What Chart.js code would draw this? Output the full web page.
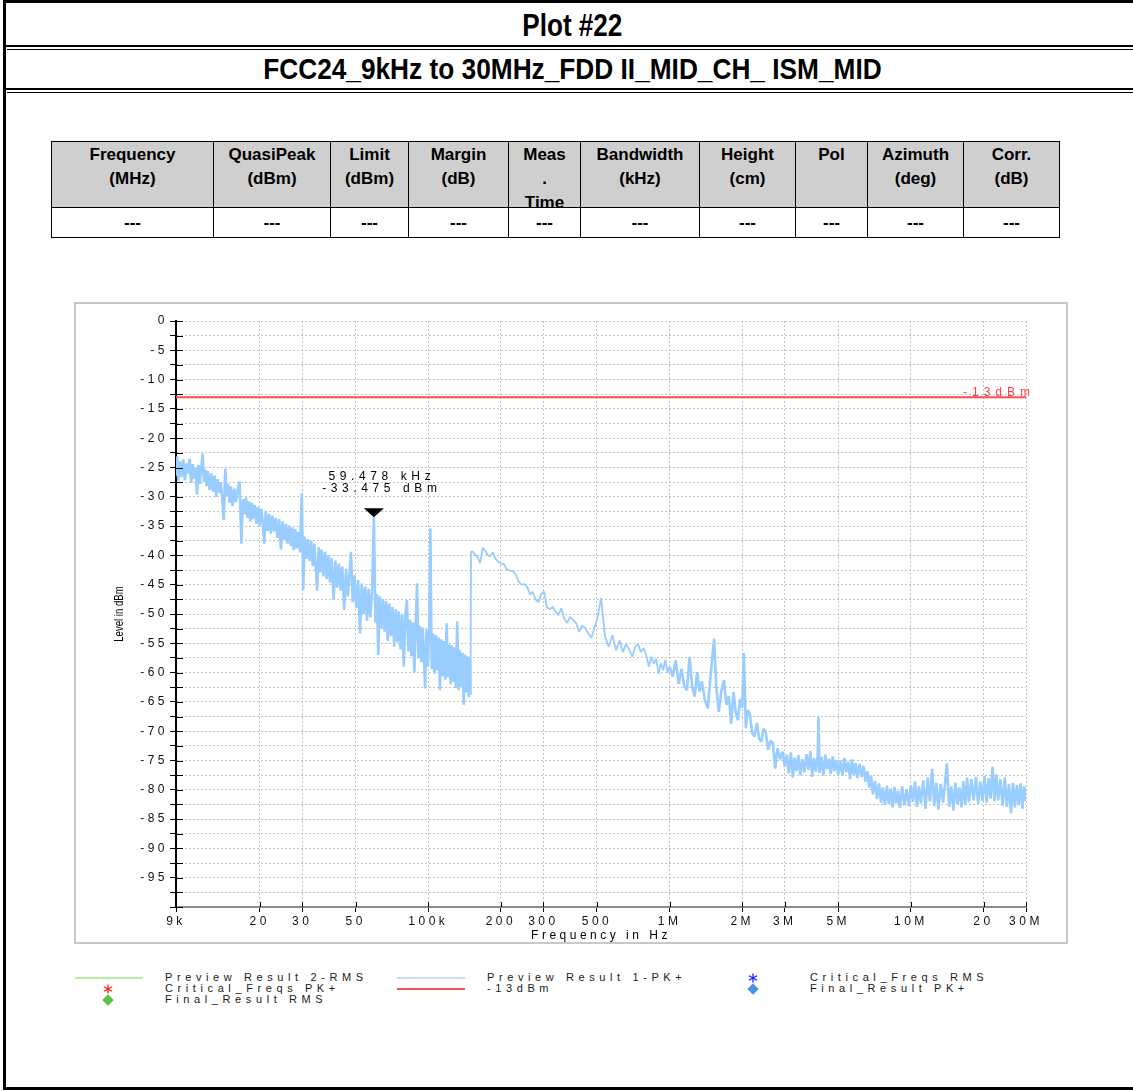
<!DOCTYPE html>
<html>
<head>
<meta charset="utf-8">
<title>Plot #22</title>
<script src="https://cdn.jsdelivr.net/npm/chart.js@4.4.1/dist/chart.umd.min.js"></script>
<style>
  body { margin: 0; background: #fff; font-family: "Liberation Sans", Arial, sans-serif; }
  .ln { position: absolute; background: #000; }
  .head { position: absolute; left: 7px; width: 1130px; text-align: center; font-weight: bold; white-space: nowrap; color: #000; }
  .head span { display: inline-block; }
  table.res { position: absolute; left: 51px; top: 141px; border-collapse: collapse; table-layout: fixed; }
  table.res th, table.res td { border: 1px solid #000; padding: 0; font-size: 17px; font-weight: bold; text-align: center; color: #000; }
  table.res th { background: #cfcfcf; height: 65px; vertical-align: top; }
  table.res th div { height: 65px; overflow: hidden; line-height: 24px; padding-top: 1px; box-sizing: border-box; }
  table.res td { height: 29px; }
  #box { position: absolute; left: 74px; top: 302px; width: 994px; height: 642px; box-sizing: border-box; border: 2px solid #c8c8c8; }
  #plot { position: absolute; left: 75px; top: 303px; }
  .lg { position: absolute; font-size: 11px; line-height: 11px; letter-spacing: 4.6px; color: #1a1a1a; white-space: nowrap; }
  .sw { position: absolute; height: 2px; width: 68px; }
  .ast { position: absolute; width: 10px; height: 10px; }
  .dia { position: absolute; width: 8px; height: 8px; transform: rotate(45deg); }
</style>
</head>
<body>

<!-- page frame -->
<div class="ln" style="left:3px;top:0;width:3px;height:1090px"></div>
<div class="ln" style="left:3px;top:0;width:1130px;height:3px"></div>
<div class="ln" style="left:3px;top:45px;width:1130px;height:2px"></div>
<div class="ln" style="left:7px;top:49px;width:1126px;height:1px"></div>
<div class="ln" style="left:3px;top:88px;width:1130px;height:2px"></div>
<div class="ln" style="left:7px;top:92px;width:1126px;height:1px"></div>
<div class="ln" style="left:3px;top:1087px;width:1130px;height:3px"></div>

<div class="head" style="top:5px;font-size:32px;line-height:40px"><span style="transform:scaleX(0.815)">Plot #22</span></div>
<div class="head" style="top:50px;font-size:30px;line-height:38px"><span style="transform:scaleX(0.875)">FCC24_9kHz to 30MHz_FDD II_MID_CH_ ISM_MID</span></div>

<table class="res">
  <colgroup>
    <col style="width:162px"><col style="width:117px"><col style="width:78px"><col style="width:100px"><col style="width:72px">
    <col style="width:119px"><col style="width:96px"><col style="width:72px"><col style="width:96px"><col style="width:96px">
  </colgroup>
  <tr>
    <th><div>Frequency<br>(MHz)</div></th>
    <th><div>QuasiPeak<br>(dBm)</div></th>
    <th><div>Limit<br>(dBm)</div></th>
    <th><div>Margin<br>(dB)</div></th>
    <th><div>Meas<br>.<br>Time</div></th>
    <th><div>Bandwidth<br>(kHz)</div></th>
    <th><div>Height<br>(cm)</div></th>
    <th><div>Pol</div></th>
    <th><div>Azimuth<br>(deg)</div></th>
    <th><div>Corr.<br>(dB)</div></th>
  </tr>
  <tr>
    <td>---</td><td>---</td><td>---</td><td>---</td><td>---</td>
    <td>---</td><td>---</td><td>---</td><td>---</td><td>---</td>
  </tr>
</table>

<div id="box"></div>
<canvas id="plot" width="992" height="640"></canvas>

<!-- legend -->
<div class="sw" style="left:75px;top:977px;background:#b8f0a4"></div>
<div class="lg" style="left:165px;top:972px">Preview Result 2-RMS</div>
<svg class="ast" style="left:103px;top:984px" viewBox="0 0 10 10"><g stroke="#ff2020" stroke-width="1.3"><line x1="5" y1="0.5" x2="5" y2="9.5"/><line x1="1" y1="2.7" x2="9" y2="7.3"/><line x1="1" y1="7.3" x2="9" y2="2.7"/></g></svg>
<div class="lg" style="left:165px;top:983px">Critical_Freqs PK+</div>
<div class="dia" style="left:104px;top:996px;background:#5cc040"></div>
<div class="lg" style="left:165px;top:994px">Final_Result RMS</div>

<div class="sw" style="left:397px;top:977px;background:#c8dcf8"></div>
<div class="lg" style="left:487px;top:972px">Preview Result 1-PK+</div>
<div class="sw" style="left:397px;top:988px;background:#f05454"></div>
<div class="lg" style="left:487px;top:983px">-13dBm</div>

<svg class="ast" style="left:748px;top:973px" viewBox="0 0 10 10"><g stroke="#2020ff" stroke-width="1.3"><line x1="5" y1="0.5" x2="5" y2="9.5"/><line x1="1" y1="2.7" x2="9" y2="7.3"/><line x1="1" y1="7.3" x2="9" y2="2.7"/></g></svg>
<div class="lg" style="left:810px;top:972px">Critical_Freqs RMS</div>
<div class="dia" style="left:749px;top:985px;background:#4a94e0"></div>
<div class="lg" style="left:810px;top:983px">Final_Result PK+</div>

<script>
// 9 kHz - 150 kHz part of the PK+ preview trace
const lowBandFreqKHz = [
  9.0, 9.1, 9.2, 9.35, 9.5, 9.65, 9.8, 9.95, 10.1, 10.25,
  10.4, 10.55, 10.7, 10.85, 11.0, 11.15, 11.3, 11.45, 11.6, 11.75,
  11.9, 12.05, 12.2, 12.4, 12.6, 12.8, 13.0, 13.2, 13.4, 13.6,
  13.8, 14.0, 14.2, 14.4, 14.6, 14.8, 15.0, 15.2, 15.45, 15.7,
  15.95, 16.2, 16.5, 16.8, 17.05, 17.3, 17.55, 17.8, 18.05, 18.3,
  18.55, 18.8, 19.1, 19.4, 19.7, 20.0, 20.3, 20.6, 20.9, 21.2,
  21.55, 21.9, 22.25, 22.6, 22.95, 23.3, 23.7, 24.1, 24.5, 24.9,
  25.3, 25.7, 26.1, 26.5, 26.9, 27.3, 27.7, 28.1, 28.5, 28.9,
  29.4, 29.9, 30.3, 30.7, 31.2, 31.7, 32.2, 32.7, 33.2, 33.7,
  34.2, 34.6, 35.1, 35.6, 36.1, 36.7, 37.3, 37.9, 38.5, 39.1,
  39.7, 40.5, 41.2, 41.9, 42.6, 43.3, 44.0, 44.8, 45.6, 46.4,
  47.2, 47.8, 48.6, 49.4, 50.3, 51.2, 52.1, 53.0, 53.9, 54.8,
  55.7, 56.6, 57.5, 58.5, 59.478, 60.4, 61.2, 62.0, 62.9, 63.9,
  64.9, 65.9, 66.9, 67.9, 68.9, 70.0, 71.1, 72.2, 73.3, 74.4,
  75.5, 76.7, 77.9, 79.1, 80.3, 81.5, 82.7, 83.9, 85.1, 86.3,
  87.5, 88.7, 89.8, 91.0, 92.3, 93.6, 94.9, 96.0, 97.0, 98.3,
  99.6, 100.9, 102.0, 103.3, 104.7, 106.1, 107.5, 108.9, 110.3, 111.7,
  113.1, 114.6, 116.1, 117.6, 119.1, 120.6, 122.1, 123.7, 125.3, 126.9,
  128.5, 130.1, 131.7, 133.4, 135.1, 136.8, 138.5, 140.2, 141.9, 143.6,
  145.3, 147.0, 148.7, 149.6
];
const lowBandLevel = [
  -26.4, -23.1, -27.3, -24.0, -26.6, -23.6, -27.2, -24.3, -26.0, -23.5,
  -27.6, -24.4, -26.9, -25.0, -29.6, -24.6, -27.8, -25.1, -22.6, -27.4,
  -25.3, -28.2, -25.6, -28.8, -26.0, -29.1, -26.4, -30.0, -27.0, -29.3,
  -27.5, -30.4, -34.0, -25.2, -29.8, -27.8, -31.0, -28.2, -31.6, -28.6,
  -30.9, -28.9, -27.4, -38.0, -30.4, -33.0, -30.1, -33.6, -30.8, -34.2,
  -31.0, -33.8, -31.4, -34.6, -31.7, -35.0, -32.0, -34.4, -38.0, -32.4,
  -35.8, -32.9, -36.3, -33.2, -35.9, -33.6, -37.0, -33.8, -39.0, -34.2,
  -37.4, -34.6, -38.0, -34.9, -38.4, -35.2, -39.1, -35.5, -38.8, -36.0,
  -39.5, -29.4, -45.9, -36.8, -40.6, -37.2, -41.0, -37.5, -41.8, -38.0,
  -42.4, -46.0, -38.6, -42.9, -39.0, -43.6, -39.4, -44.0, -40.0, -44.6,
  -40.4, -47.6, -40.9, -45.5, -41.4, -46.0, -41.9, -49.3, -42.3, -47.0,
  -42.8, -39.4, -48.0, -43.4, -49.0, -44.2, -53.3, -44.8, -50.0, -45.3,
  -51.2, -45.7, -50.6, -46.0, -33.475, -51.5, -46.6, -57.0, -47.0, -52.4,
  -47.4, -53.0, -47.8, -54.6, -48.2, -53.8, -48.8, -55.6, -49.2, -54.8,
  -49.6, -56.0, -50.0, -59.0, -50.4, -47.6, -56.4, -51.0, -57.2, -51.4,
  -60.0, -51.7, -44.8, -57.6, -52.0, -58.2, -52.3, -57.9, -62.7, -52.6,
  -59.0, -53.0, -35.4, -59.4, -53.3, -60.2, -53.6, -59.6, -54.0, -63.0,
  -54.3, -60.6, -54.6, -61.2, -51.6, -60.8, -55.2, -62.0, -55.4, -61.6,
  -55.7, -62.6, -51.3, -63.0, -56.2, -62.4, -56.6, -65.5, -56.9, -63.4,
  -57.2, -64.2, -57.4, -63.8
];

// 150 kHz - 30 MHz part of the same trace
const highBandFreqKHz = [
  150.3, 152, 156, 160, 164, 168, 172, 176, 180, 185,
  190, 195, 200, 206, 212, 218, 224, 230, 236, 243,
  250, 257, 264, 271, 278, 286, 294, 302, 310, 319,
  328, 337, 346, 356, 366, 376, 387, 398, 410, 422,
  434, 447, 460, 474, 488, 500, 520, 540, 560, 580,
  600, 620, 640, 660, 680, 700, 720, 740, 760, 780,
  800, 820, 840, 860, 880, 900, 920, 940, 960, 980,
  1000, 1030, 1060, 1090, 1120, 1150, 1180, 1210, 1240, 1270,
  1300, 1330, 1360, 1400, 1440, 1480, 1530, 1560, 1600, 1640,
  1680, 1720, 1760, 1800, 1840, 1880, 1920, 1960, 2000, 2030,
  2070, 2110, 2150, 2200, 2250, 2300, 2350, 2400, 2450, 2500,
  2560, 2620, 2680, 2740, 2800, 2870, 2940, 3000, 3060, 3120,
  3180, 3240, 3300, 3360, 3420, 3480, 3550, 3620, 3690, 3760,
  3830, 3900, 3970, 4040, 4110, 4140, 4180, 4260, 4340, 4420,
  4500, 4580, 4660, 4740, 4820, 4900, 5000, 5100, 5200, 5300,
  5400, 5500, 5600, 5700, 5800, 5900, 6000, 6120, 6240, 6360,
  6480, 6600, 6720, 6840, 6960, 7100, 7240, 7380, 7520, 7660,
  7800, 7950, 8100, 8250, 8400, 8550, 8700, 8850, 9000, 9200,
  9400, 9600, 9800, 10000, 10200, 10400, 10600, 10800, 11000, 11250,
  11500, 11750, 12000, 12250, 12500, 12750, 13000, 13300, 13600, 13900,
  14100, 14400, 14700, 15000, 15300, 15600, 15900, 16200, 16500, 16800,
  17100, 17400, 17800, 18200, 18600, 19000, 19400, 19800, 20200, 20600,
  21000, 21400, 21800, 22200, 22600, 23000, 23500, 24000, 24500, 25000,
  25500, 26000, 26500, 27000, 27500, 28000, 28500, 29000, 29500, 30000
];
const highBandLevel = [
  -39.4, -39.3, -39.8, -40.3, -41.3, -38.7, -39.2, -39.9, -40.2, -39.5,
  -40.6, -41.1, -41.4, -41.5, -42.4, -42.6, -42.7, -43.2, -44.4, -45.0,
  -44.9, -45.4, -46.7, -46.2, -47.5, -48.0, -46.5, -46.2, -48.9, -49.2,
  -48.8, -49.6, -50.2, -49.0, -50.8, -51.5, -50.5, -51.0, -51.6, -53.0,
  -52.0, -52.4, -53.3, -54.1, -52.3, -51.0, -47.3, -53.9, -55.6, -53.6,
  -56.2, -54.5, -56.5, -55.1, -56.0, -57.3, -55.6, -55.1, -56.5, -55.8,
  -57.0, -59.0, -57.3, -58.5, -57.6, -60.2, -58.4, -59.6, -57.8, -60.0,
  -59.0, -60.7, -57.9, -61.9, -59.4, -62.3, -63.0, -57.3, -62.4, -64.1,
  -59.9, -63.2, -61.5, -64.7, -66.1, -60.2, -54.2, -62.4, -66.7, -63.0,
  -61.3, -65.5, -64.0, -68.7, -63.3, -66.8, -68.1, -64.5, -66.0, -56.6,
  -69.5, -66.4, -67.0, -70.3, -70.9, -68.6, -71.2, -71.8, -69.6, -70.0,
  -73.2, -71.6, -72.0, -76.4, -72.9, -74.8, -73.5, -76.1, -74.0, -77.2,
  -73.6, -77.9, -74.5, -76.8, -74.1, -77.5, -74.8, -77.0, -73.9, -76.6,
  -73.4, -77.8, -74.6, -76.9, -74.2, -67.5, -77.1, -74.4, -77.6, -74.0,
  -76.5, -74.7, -77.3, -74.3, -76.8, -74.9, -77.4, -75.0, -77.6, -74.6,
  -77.0, -75.2, -78.2, -74.8, -77.4, -75.4, -78.0, -75.6, -77.8, -75.9,
  -78.6, -76.8, -79.6, -77.6, -80.8, -78.5, -81.6, -78.9, -82.2, -79.6,
  -82.6, -79.3, -82.4, -79.8, -83.0, -79.5, -82.3, -80.2, -83.1, -79.4,
  -82.6, -79.9, -82.8, -79.2, -82.0, -78.6, -82.9, -79.4, -82.3, -78.4,
  -83.2, -77.9, -82.0, -76.4, -82.8, -78.8, -83.4, -79.0, -82.2, -78.2,
  -75.5, -82.9, -79.4, -83.5, -78.8, -82.4, -79.6, -83.0, -78.5, -82.6,
  -77.9, -82.1, -78.2, -81.8, -77.8, -82.4, -78.6, -81.9, -77.6, -82.2,
  -78.0, -81.5, -76.1, -82.0, -77.4, -81.8, -78.2, -82.7, -77.9, -82.9,
  -79.0, -84.0, -78.8, -83.0, -79.2, -82.6, -78.9, -83.2, -79.4, -82.0
];

const xTickValues = [9e3, 2e4, 3e4, 5e4, 1e5, 2e5, 3e5, 5e5, 1e6, 2e6, 3e6, 5e6, 1e7, 2e7, 3e7];
const xTickLabels = ['9k', '20', '30', '50', '100k', '200', '300', '500', '1M', '2M', '3M', '5M', '10M', '20', '30M'];
const yMin = -100, yMax = 0, yStep = 2.5;

const limitLevel = -13;
const limitLabel = '-13dBm';
const markerFreq = 59478;
const markerLevel = -33.475;
const markerText = ['59.478 kHz', '-33.475 dBm'];

const traceFreqKHz = lowBandFreqKHz.concat(highBandFreqKHz);
const traceLevel = lowBandLevel.concat(highBandLevel);
const trace = traceFreqKHz.map((f, i) => ({ x: f * 1000, y: traceLevel[i] }));

Chart.defaults.font.family = '"Liberation Sans", Arial, sans-serif';
Chart.defaults.font.size = 12;
Chart.defaults.color = '#111';

// marker, limit text, inner tick marks and y title
const extras = {
  id: 'extras',
  beforeDraw(chart) {
    chart.ctx.letterSpacing = '3.5px';
  },
  afterDraw(chart) {
    const { ctx, chartArea: a, scales: { x, y } } = chart;
    ctx.save();
    ctx.strokeStyle = '#000';
    ctx.lineWidth = 1;
    y.ticks.forEach(t => {
      const py = Math.round(y.getPixelForValue(t.value)) + 0.5;
      ctx.beginPath(); ctx.moveTo(a.left, py); ctx.lineTo(a.left + 7, py); ctx.stroke();
    });
    x.ticks.forEach(t => {
      const px = Math.round(x.getPixelForValue(t.value)) + 0.5;
      ctx.beginPath(); ctx.moveTo(px, a.bottom); ctx.lineTo(px, a.bottom - 5); ctx.stroke();
    });

    ctx.font = '12px "Liberation Sans", Arial, sans-serif';
    ctx.letterSpacing = '5px';
    ctx.fillStyle = '#ff4040';
    ctx.textAlign = 'right';
    ctx.textBaseline = 'alphabetic';
    ctx.fillText(limitLabel, a.right + 9, y.getPixelForValue(limitLevel) - 1);

    const mx = x.getPixelForValue(markerFreq);
    const my = y.getPixelForValue(markerLevel);
    ctx.fillStyle = '#000';
    ctx.beginPath();
    ctx.moveTo(mx - 10, my - 9);
    ctx.lineTo(mx + 10, my - 9);
    ctx.lineTo(mx, my);
    ctx.closePath();
    ctx.fill();
    ctx.letterSpacing = '4.6px';
    ctx.textAlign = 'center';
    ctx.fillText(markerText[0], mx + 8, my - 37);
    ctx.fillText(markerText[1], mx + 8, my - 25);

    ctx.letterSpacing = '0px';
    ctx.font = '12px "Liberation Sans", Arial, sans-serif';
    ctx.translate(45, (a.top + a.bottom) / 2);
    ctx.rotate(-Math.PI / 2);
    ctx.scale(0.8, 1);
    ctx.textAlign = 'center';
    ctx.textBaseline = 'middle';
    ctx.fillText('Level in dBm', 0, 0);
    ctx.restore();
  }
};

// noisy parts of the sweep get a heavier stroke
const noisyWidth = c => (c.p1.parsed.x <= 150000 || c.p0.parsed.x >= 1e6) ? 2.6 : 1.8;

const ctx = document.getElementById('plot');
const chart = new Chart(ctx, {
  type: 'line',
  data: {
    datasets: [{
      label: 'Preview Result 1-PK+',
      data: trace,
      borderColor: '#99ccff',
      borderWidth: 2,
      borderJoinStyle: 'bevel',
      segment: { borderWidth: noisyWidth },
      pointRadius: 0,
      tension: 0
    }, {
      label: limitLabel,
      data: [{ x: xTickValues[0], y: limitLevel }, { x: xTickValues[xTickValues.length - 1], y: limitLevel }],
      borderColor: '#ff4c4c',
      borderWidth: 2,
      pointRadius: 0
    }]
  },
  options: {
    responsive: false,
    animation: false,
    layout: { padding: { top: 18, right: 41, left: 0, bottom: 0 } },
    scales: {
      x: {
        type: 'logarithmic',
        min: xTickValues[0],
        max: xTickValues[xTickValues.length - 1],
        afterBuildTicks: s => { s.ticks = xTickValues.map(v => ({ value: v })); },
        afterFit: s => { s.height = 36; },
        ticks: {
          autoSkip: false, maxRotation: 0, padding: 2,
          callback: (v, i) => xTickLabels[i]
        },
        grid: { color: '#c4c4c4', tickColor: '#000', tickLength: 5 },
        border: { color: '#8c8c8c', width: 2, dash: [2, 2] },
        title: { display: true, text: 'Frequency in Hz', color: '#000', font: { size: 12 }, padding: 0 }
      },
      y: {
        min: yMin,
        max: yMax,
        afterFit: s => { s.width = 101; },
        ticks: {
          stepSize: yStep, maxTicksLimit: 100, autoSkip: false, padding: 2,
          callback: v => (v % 5 === 0 && v > yMin) ? String(v) : ''
        },
        grid: { color: '#c4c4c4', tickColor: '#000', tickLength: 6 },
        border: { color: '#000', width: 2, dash: [2, 2] }
      }
    },
    plugins: {
      legend: { display: false },
      tooltip: { enabled: false }
    }
  },
  plugins: [extras]
});
</script>
</body>
</html>
